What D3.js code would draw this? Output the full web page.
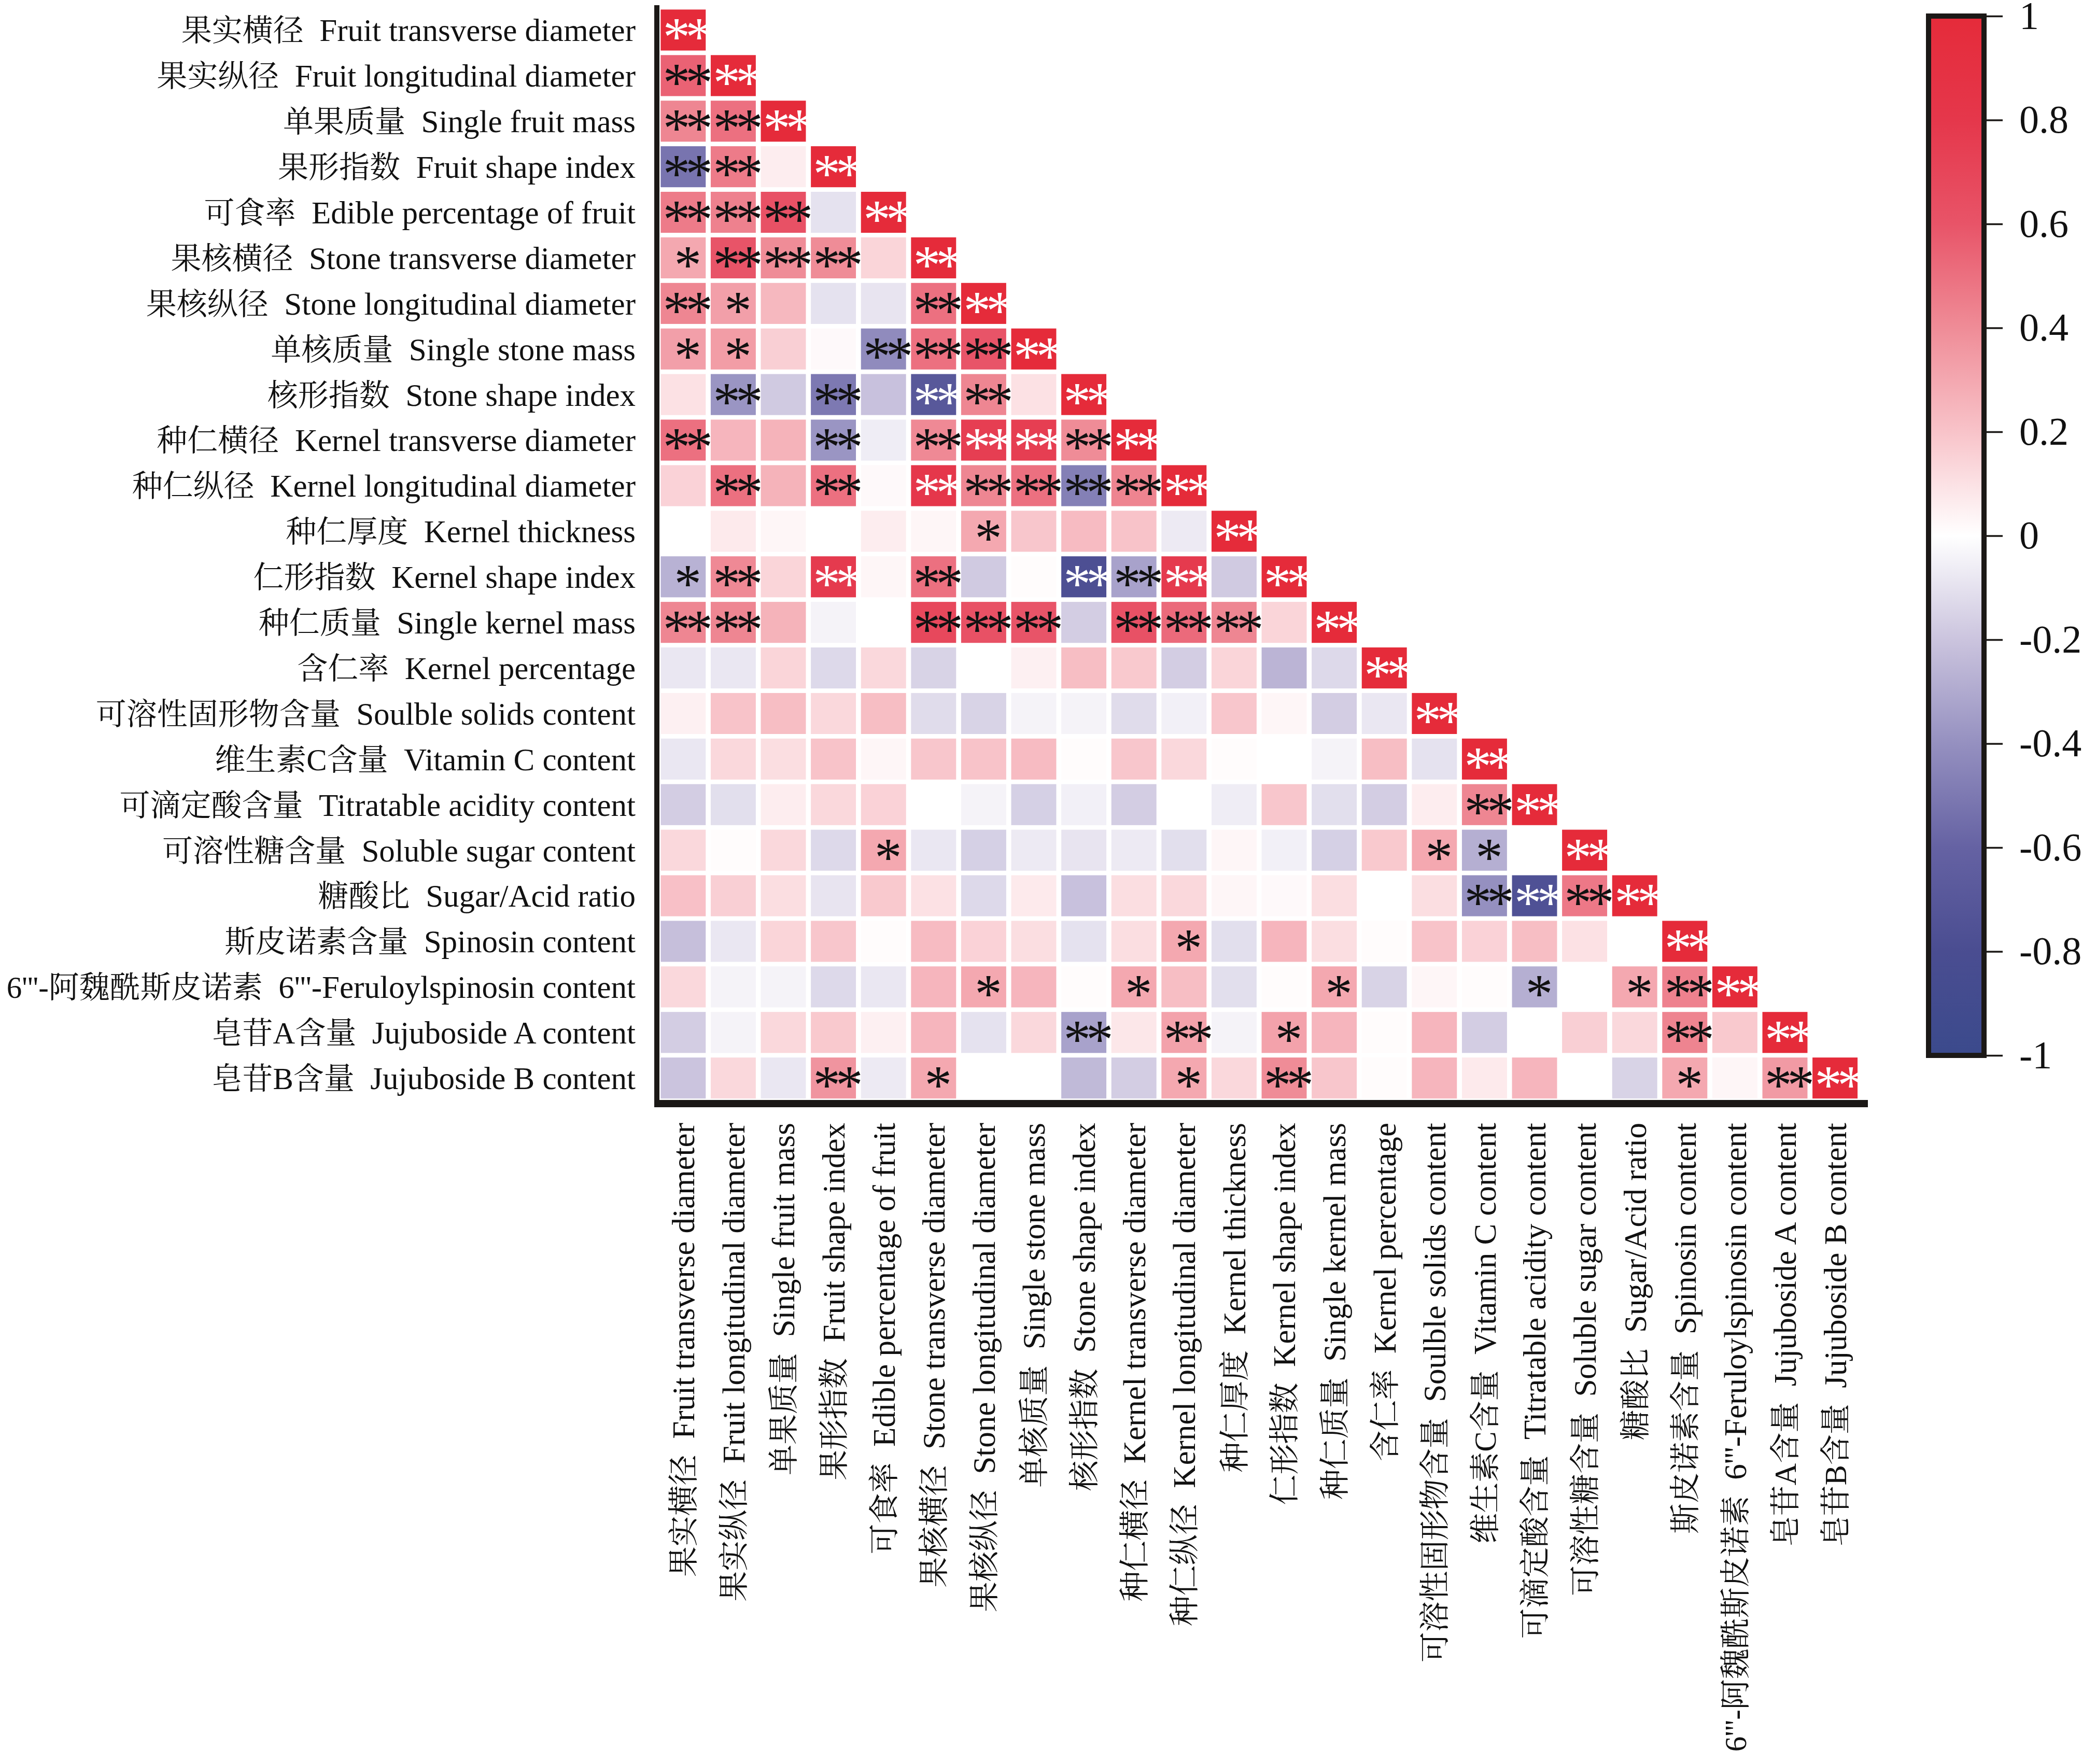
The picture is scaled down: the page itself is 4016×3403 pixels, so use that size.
<!DOCTYPE html>
<html><head><meta charset="utf-8">
<script src="https://cdn.jsdelivr.net/npm/d3@7"></script>
<style>html,body{margin:0;padding:0;background:#fff;} svg{display:block;}</style>
</head><body><svg id="chart" width="4016" height="3403"></svg>
<script>
const traitsCN = ["果实横径","果实纵径","单果质量","果形指数","可食率","果核横径","果核纵径","单核质量","核形指数","种仁横径","种仁纵径","种仁厚度","仁形指数","种仁质量","含仁率","可溶性固形物含量","维生素C含量","可滴定酸含量","可溶性糖含量","糖酸比","斯皮诺素含量","6'''-阿魏酰斯皮诺素","皂苷A含量","皂苷B含量"];
const traitsEN = ["Fruit transverse diameter","Fruit longitudinal diameter","Single fruit mass","Fruit shape index","Edible percentage of fruit","Stone transverse diameter","Stone longitudinal diameter","Single stone mass","Stone shape index","Kernel transverse diameter","Kernel longitudinal diameter","Kernel thickness","Kernel shape index","Single kernel mass","Kernel percentage","Soulble solids content","Vitamin C content","Titratable acidity content","Soluble sugar content","Sugar/Acid ratio","Spinosin content","6'''-Feruloylspinosin content","Jujuboside A content","Jujuboside B content"];

const corrRows = [
  [1],
  [0.55,1],
  [0.42,0.50,1],
  [-0.52,0.46,0.06,1],
  [0.46,0.44,0.62,-0.10,1],
  [0.30,0.60,0.40,0.40,0.14,1],
  [0.42,0.33,0.24,-0.10,-0.09,0.50,1],
  [0.33,0.34,0.16,0.02,-0.42,0.50,0.60,1],
  [0.10,-0.38,-0.18,-0.50,-0.21,-0.70,0.42,0.10,1],
  [0.50,0.25,0.26,-0.38,-0.06,0.41,0.75,0.75,0.40,1],
  [0.15,0.50,0.26,0.50,0.02,0.80,0.42,0.50,-0.47,0.43,1],
  [0.00,0.07,0.03,0.00,0.06,0.03,0.30,0.19,0.23,0.20,-0.07,1],
  [-0.27,0.41,0.14,0.78,0.03,0.50,-0.18,0.01,-0.78,-0.33,0.78,-0.18,1],
  [0.42,0.42,0.26,-0.04,0.00,0.68,0.62,0.60,-0.17,0.62,0.52,0.42,0.14,1],
  [-0.08,-0.08,0.14,-0.13,0.13,-0.15,0.00,0.05,0.22,0.18,-0.17,0.14,-0.26,-0.13,1],
  [0.05,0.20,0.22,0.13,0.22,-0.12,-0.15,-0.04,-0.04,-0.12,-0.05,0.19,0.03,-0.17,-0.08,1],
  [-0.08,0.13,0.11,0.20,0.03,0.19,0.20,0.23,0.01,0.19,0.13,0.01,0.00,-0.04,0.22,-0.10,1],
  [-0.17,-0.11,0.06,0.13,0.15,0.00,-0.04,-0.16,-0.05,-0.17,0.00,-0.06,0.19,-0.11,-0.17,0.06,0.42,1],
  [0.13,0.01,0.13,-0.13,0.30,-0.08,-0.16,-0.07,-0.09,-0.07,-0.11,0.03,-0.05,-0.16,0.18,0.30,-0.28,0.00,1],
  [0.21,0.16,0.11,-0.09,0.18,0.10,-0.13,0.07,-0.21,0.11,0.13,0.03,0.02,0.11,0.00,0.11,-0.40,-0.76,0.47,1],
  [-0.22,-0.08,0.14,0.19,0.01,0.23,0.15,0.11,-0.10,0.11,0.30,-0.11,0.25,0.11,0.01,0.20,0.15,0.22,0.10,0.00,1],
  [0.13,-0.04,-0.04,-0.13,-0.08,0.25,0.30,0.25,0.01,0.30,0.22,-0.11,0.01,0.30,-0.15,0.03,0.01,-0.28,0.00,0.30,0.44,1],
  [-0.17,-0.04,0.13,0.18,0.05,0.25,-0.10,0.13,-0.33,0.08,0.32,-0.04,0.32,0.25,0.01,0.25,-0.17,0.00,0.16,0.13,0.43,0.18,1],
  [-0.20,0.13,-0.08,0.37,-0.07,0.30,0.00,0.00,-0.24,-0.17,0.30,0.13,0.40,0.19,0.01,0.25,0.07,0.25,0.00,-0.15,0.30,0.03,0.35,1]
];
// significance per cell: 0 none, 1 = *, 2 = **
const sigRows = [
  "2","22","222","2202","22202","122202","2100022","11002222","020202202","2002022222",
  "02020222222","000000100002","1202020022202","22000222022202","000000000000002",
  "0000000000000002","00000000000000002","000000000000000022","0000100000000001102",
  "00000000000000002222","000000000010000000002","0000001001000100010122",
  "00000000202010000000202","000201000010200000001022"
];
const colorTicks = [-1,-0.8,-0.6,-0.4,-0.2,0,0.2,0.4,0.6,0.8,1];
const colorTickLabels = ["-1","-0.8","-0.6","-0.4","-0.2","0","0.2","0.4","0.6","0.8","1"];
const paletteColors = ["#3b4a8c","#4a4d91","#6562a3","#9590c0","#cbc4de","#ffffff","#f8c3c9","#ef8c97","#e85468","#e5374b","#e52b3a"];

const W = 4016, H = 3403, N = traitsCN.length;
const serif = "'Liberation Serif','Times New Roman','Noto Serif CJK SC','Noto Sans CJK SC',serif";
const ink = "#1b1816";
const svg = d3.select("#chart");
svg.append("rect").attr("width", W).attr("height", H).attr("fill", "#fff");

const x = d3.scaleBand().domain(d3.range(N)).range([1269.5, 1269.5 + N * 96.6]).paddingInner(0.1).paddingOuter(0.05);
const y = d3.scaleBand().domain(d3.range(N)).range([14, 14 + N * 87.9]).paddingInner(0.1).paddingOuter(0.05);
const color = d3.scaleLinear().domain(colorTicks).range(paletteColors).clamp(true);

const cells = [];
corrRows.forEach((row, i) => row.forEach((v, j) => cells.push({ i, j, v, s: +sigRows[i][j] })));

svg.append("g").selectAll("rect").data(cells).join("rect")
  .attr("x", d => x(d.j)).attr("y", d => y(d.i))
  .attr("width", x.bandwidth()).attr("height", y.bandwidth())
  .attr("fill", d => color(d.v));

svg.append("g").selectAll("text").data(cells.filter(d => d.s > 0)).join("text")
  .attr("x", d => x(d.j) + x.bandwidth() / 2 + 4.5)
  .attr("y", d => y(d.i) + y.bandwidth() / 2)
  .attr("dy", "0.47em")
  .attr("text-anchor", "middle")
  .attr("font-family", serif).attr("font-size", 105)
  .attr("letter-spacing", "-9px")
  .attr("fill", d => Math.abs(d.v) >= 0.7 ? "#ffffff" : "#111")
  .text(d => "*".repeat(d.s));

// axis lines
svg.append("line").attr("x1", 1267).attr("x2", 1267).attr("y1", 10).attr("y2", 2136)
  .attr("stroke", ink).attr("stroke-width", 10);
svg.append("line").attr("x1", 1262).attr("x2", 3603).attr("y1", 2129).attr("y2", 2129)
  .attr("stroke", ink).attr("stroke-width", 14);

function fillLabel(sel) {
  sel.attr("font-family", serif).attr("font-size", 61).attr("fill", "#111").style("white-space", "pre");
  sel.append("tspan").attr("font-size", 59).text(i => traitsCN[i]);
  sel.append("tspan").text(i => "  " + traitsEN[i]);
}

// row labels
svg.append("g").selectAll("text").data(d3.range(N)).join("text")
  .attr("x", 1226).attr("y", i => y(i) + y.bandwidth() / 2).attr("dy", "0.35em")
  .attr("text-anchor", "end")
  .call(fillLabel);

// column labels
svg.append("g").selectAll("text").data(d3.range(N)).join("text")
  .attr("transform", i => `translate(${x(i) + x.bandwidth() / 2},2166) rotate(-90)`)
  .attr("dy", "0.35em")
  .attr("text-anchor", "end")
  .call(fillLabel);

// colour bar
const cbY = d3.scaleLinear().domain([-1, 1]).range([2036, 31]);
const grad = svg.append("defs").append("linearGradient").attr("id", "cbgrad")
  .attr("x1", 0).attr("y1", 1).attr("x2", 0).attr("y2", 0);
grad.selectAll("stop").data(colorTicks).join("stop")
  .attr("offset", d => (d + 1) / 2).attr("stop-color", d => color(d));
svg.append("rect").attr("x", 3720).attr("y", cbY(1)).attr("width", 107).attr("height", cbY(-1) - cbY(1))
  .attr("fill", "url(#cbgrad)").attr("stroke", ink).attr("stroke-width", 10);

const cbAxis = svg.append("g").attr("transform", "translate(3832,0)")
  .call(d3.axisRight(cbY).tickValues(colorTicks).tickSize(31).tickPadding(32)
    .tickFormat((d, i) => colorTickLabels[i]));
cbAxis.select(".domain").remove();
cbAxis.selectAll(".tick line").attr("stroke", ink).attr("stroke-width", 3.5);
cbAxis.selectAll(".tick text").attr("font-family", serif).attr("font-size", 76).attr("fill", "#111");
</script></body></html>
